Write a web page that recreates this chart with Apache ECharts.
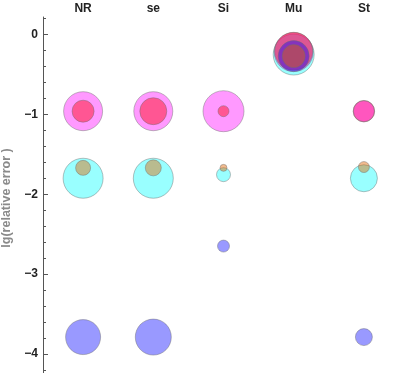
<!DOCTYPE html>
<html>
<head>
<meta charset="utf-8">
<script src="https://cdn.jsdelivr.net/npm/echarts@6/dist/echarts.min.js"></script>
<style>html,body{margin:0;padding:0;background:#fff}#c{width:399px;height:373px}</style>
</head>
<body>
<div id="c"></div>
<script>
const categories = ['NR', 'se', 'Si', 'Mu', 'St'];

// value = lg(relative error), size = bubble diameter
const magentaY = [-0.96, -0.96, -0.96, -0.22, -0.96];
const magentaSize = [39, 39, 41, 39, 21];
const redY = [-0.96, -0.96, -0.96, -0.21, -0.96];
const redSize = [22, 27, 11, 38, 21.5];
const cyanY = [-1.8, -1.8, -1.755, -0.25, -1.8];
const cyanSize = [40, 40, 14, 41, 27];
const tanY = [-1.67, -1.67, -1.67, -0.27, -1.66];
const tanSize = [15, 16, 7, 23, 11];
const blueY = [-3.79, -3.79, -2.65, -0.27, -3.79];
const blueSize = [35, 36, 12, 31, 17];

const yMajorTicks = [0, -1, -2, -3, -4];
const yMinorTicks = [0.2, -0.2, -0.4, -0.6, -0.8, -1.2, -1.4, -1.6, -1.8, -2.2, -2.4, -2.6, -2.8, -3.2, -3.4, -3.6, -3.8, -4.2];

const groups = [
  { ys: magentaY, sizes: magentaSize, color: 'rgba(255,0,255,0.5)' },
  { ys: redY, sizes: redSize, color: 'rgba(255,0,8,0.55)' },
  { ys: cyanY, sizes: cyanSize, color: 'rgba(0,255,255,0.5)' },
  { ys: tanY, sizes: tanSize, color: 'rgba(225,100,0,0.55)' },
  { ys: blueY, sizes: blueSize, color: 'rgba(0,0,255,0.5)' }
];

// bubbles drawn largest first (smaller ones on top)
const points = [];
groups.forEach(g => {
  categories.forEach((c, i) => {
    points.push({ value: [c, g.ys[i], g.sizes[i]], itemStyle: { color: g.color } });
  });
});
points.sort((a, b) => b.value[2] - a.value[2]);

const chart = echarts.init(document.getElementById('c'), null, { renderer: 'canvas' });
const fontFam = '"Liberation Sans", Arial, sans-serif';
chart.setOption({
  animation: false,
  backgroundColor: '#fff',
  grid: { left: 48, right: 0, top: 17, bottom: 0, containLabel: false, outerBoundsMode: 'none' },
  xAxis: {
    type: 'category',
    data: categories,
    position: 'top',
    boundaryGap: true,
    axisLine: { show: false },
    axisTick: { show: false },
    splitLine: { show: false },
    axisLabel: { margin: 2, fontSize: 12, fontWeight: 'bold', color: '#222', fontFamily: fontFam }
  },
  yAxis: [
    {
      type: 'value',
      min: -4.24,
      max: 0.22,
      offset: 5,
      name: 'lg(relative error )',
      nameLocation: 'middle',
      nameGap: 24,
      nameTextStyle: { fontSize: 12.5, fontWeight: 'bold', color: '#8a8a8a', fontFamily: fontFam, padding: [0, 6, 0, 0] },
      axisLine: { show: true, lineStyle: { color: '#555', width: 1 } },
      axisTick: { show: true, inside: true, length: 5, customValues: yMajorTicks, lineStyle: { color: '#555' } },
      axisLabel: {
        show: true, margin: 5, fontSize: 12, fontWeight: 'bold', color: '#222', fontFamily: fontFam,
        customValues: yMajorTicks,
        formatter: v => String(v).replace('-', '\u2212')
      },
      splitLine: { show: false }
    },
    {
      type: 'value',
      min: -4.24,
      max: 0.22,
      offset: 5,
      position: 'left',
      axisLine: { show: false },
      axisTick: { show: true, inside: true, length: 3, customValues: yMinorTicks, lineStyle: { color: '#555' } },
      axisLabel: { show: false },
      splitLine: { show: false }
    }
  ],
  series: [{
    type: 'scatter',
    data: points,
    symbolSize: v => v[2],
    itemStyle: { borderColor: 'rgba(110,110,110,0.55)', borderWidth: 1 },
    emphasis: { disabled: true },
    silent: true
  }]
});
</script>
</body>
</html>
